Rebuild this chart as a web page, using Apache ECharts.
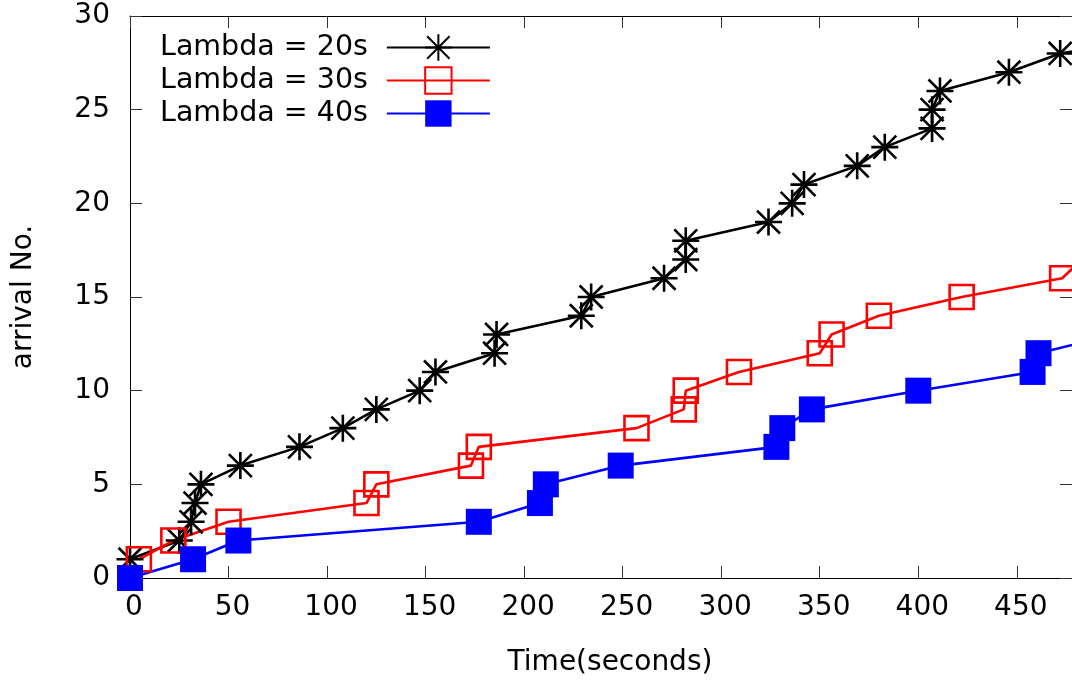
<!DOCTYPE html>
<html><head><meta charset="utf-8">
<script src="https://cdn.jsdelivr.net/npm/echarts@6/dist/echarts.min.js"></script>
<style>html,body{margin:0;padding:0;background:#fff}#c{width:1072px;height:682px}</style>
</head><body><div id="c"></div>
<script>
// ---- data ----
const seriesNames = ['Lambda = 20s', 'Lambda = 30s', 'Lambda = 40s'];
const lambda20Time = [0, 25, 31, 33, 36, 56, 86, 108, 125, 147, 155, 185, 186, 229, 234, 271, 282, 282, 324, 336, 342, 369, 383, 407, 407, 411, 446, 472, 530];
const lambda20Arr  = [1, 2, 3, 4, 5, 6, 7, 8, 9, 10, 11, 12, 13, 14, 15, 16, 17, 18, 19, 20, 21, 22, 23, 24, 25, 26, 27, 28, 29];
const lambda30Time = [4.5, 22, 50, 120, 125, 173, 177, 257, 281, 282, 309, 350, 356, 380, 422, 473, 483];
const lambda30Arr  = [1, 2, 3, 4, 5, 6, 7, 8, 9, 10, 11, 12, 13, 14, 15, 16, 17];
const lambda40Time = [0, 32, 55, 177, 208, 211, 249, 328, 331, 346, 400, 458, 461, 500];
const lambda40Arr  = [0, 1, 2, 3, 4, 5, 6, 7, 8, 9, 10, 11, 12, 13];
const xAxisRange = [0, 478];
const yAxisRange = [0, 30];
const xTickStep = 50;
const yTickStep = 5;
const xTitle = 'Time(seconds)';
const yTitle = 'arrival No.';

function pairs(xs, ys) { return xs.map((x, i) => [x, ys[i]]); }

const FONT = 'DejaVu Sans';
const asterisk = 'path://M0,-1L0,1M-1,0L1,0M-0.85,-0.85L0.85,0.85M-0.85,0.85L0.85,-0.85';

const chart = echarts.init(document.getElementById('c'), null, {renderer: 'canvas'});

const tickStyle = {show: true, inside: true, length: 12, lineStyle: {color: '#333', width: 1}};
const lineAxis = {show: true, onZero: false, lineStyle: {color: '#000', width: 1}};

chart.setOption({
  animation: false,
  backgroundColor: '#fff',
  grid: {left: 130, right: 0, top: 16, bottom: 102, containLabel: false},
  legend: {
    orient: 'vertical', left: 160, top: 31, padding: 0,
    align: 'right', itemWidth: 103, itemHeight: 33, itemGap: 0,
    textStyle: {fontSize: 28.5, fontFamily: FONT, color: '#000', padding: [0, 14, 0, 0], lineHeight: 33},
    data: seriesNames
  },
  xAxis: [{
    type: 'value', min: xAxisRange[0], max: xAxisRange[1], interval: xTickStep,
    position: 'bottom',
    axisLine: lineAxis, axisTick: tickStyle, splitLine: {show: false},
    axisLabel: {fontSize: 28, fontFamily: FONT, color: '#000', margin: 16, showMaxLabel: false, padding: [0, 0, 0, 8]},
    name: xTitle, nameLocation: 'middle', nameGap: 71,
    nameTextStyle: {fontSize: 28, fontFamily: FONT, color: '#000', padding: [0, 0, 0, 18]}
  }, {
    type: 'value', min: xAxisRange[0], max: xAxisRange[1], interval: xTickStep,
    position: 'top',
    axisLine: lineAxis, axisTick: tickStyle, splitLine: {show: false},
    axisLabel: {show: false}
  }],
  yAxis: [{
    type: 'value', min: yAxisRange[0], max: yAxisRange[1], interval: yTickStep,
    position: 'left',
    axisLine: lineAxis, axisTick: tickStyle, splitLine: {show: false},
    axisLabel: {fontSize: 28, fontFamily: FONT, color: '#000', margin: 20},
    name: yTitle, nameLocation: 'middle', nameGap: 92,
    nameTextStyle: {fontSize: 28, fontFamily: FONT, color: '#000'}
  }, {
    type: 'value', min: yAxisRange[0], max: yAxisRange[1], interval: yTickStep,
    position: 'right',
    axisLine: lineAxis, axisTick: tickStyle, splitLine: {show: false},
    axisLabel: {show: false}
  }],
  series: [{
    name: seriesNames[0], type: 'line', data: pairs(lambda20Time, lambda20Arr),
    symbol: asterisk, symbolSize: 27, showAllSymbol: true, clip: true,
    lineStyle: {color: '#000', width: 2.6},
    itemStyle: {color: 'none', borderColor: '#000', borderWidth: 2.6}
  }, {
    name: seriesNames[1], type: 'line', data: pairs(lambda30Time, lambda30Arr),
    symbol: 'rect', symbolSize: 24, showAllSymbol: true, clip: true,
    lineStyle: {color: '#ff0000', width: 2.6},
    itemStyle: {color: 'none', borderColor: '#ff0000', borderWidth: 2.6}
  }, {
    name: seriesNames[2], type: 'line', data: pairs(lambda40Time, lambda40Arr),
    symbol: 'rect', symbolSize: 26, showAllSymbol: true, clip: true,
    lineStyle: {color: '#0000ff', width: 2.6},
    itemStyle: {color: '#0000ff', borderWidth: 0}
  }]
});
</script></body></html>
